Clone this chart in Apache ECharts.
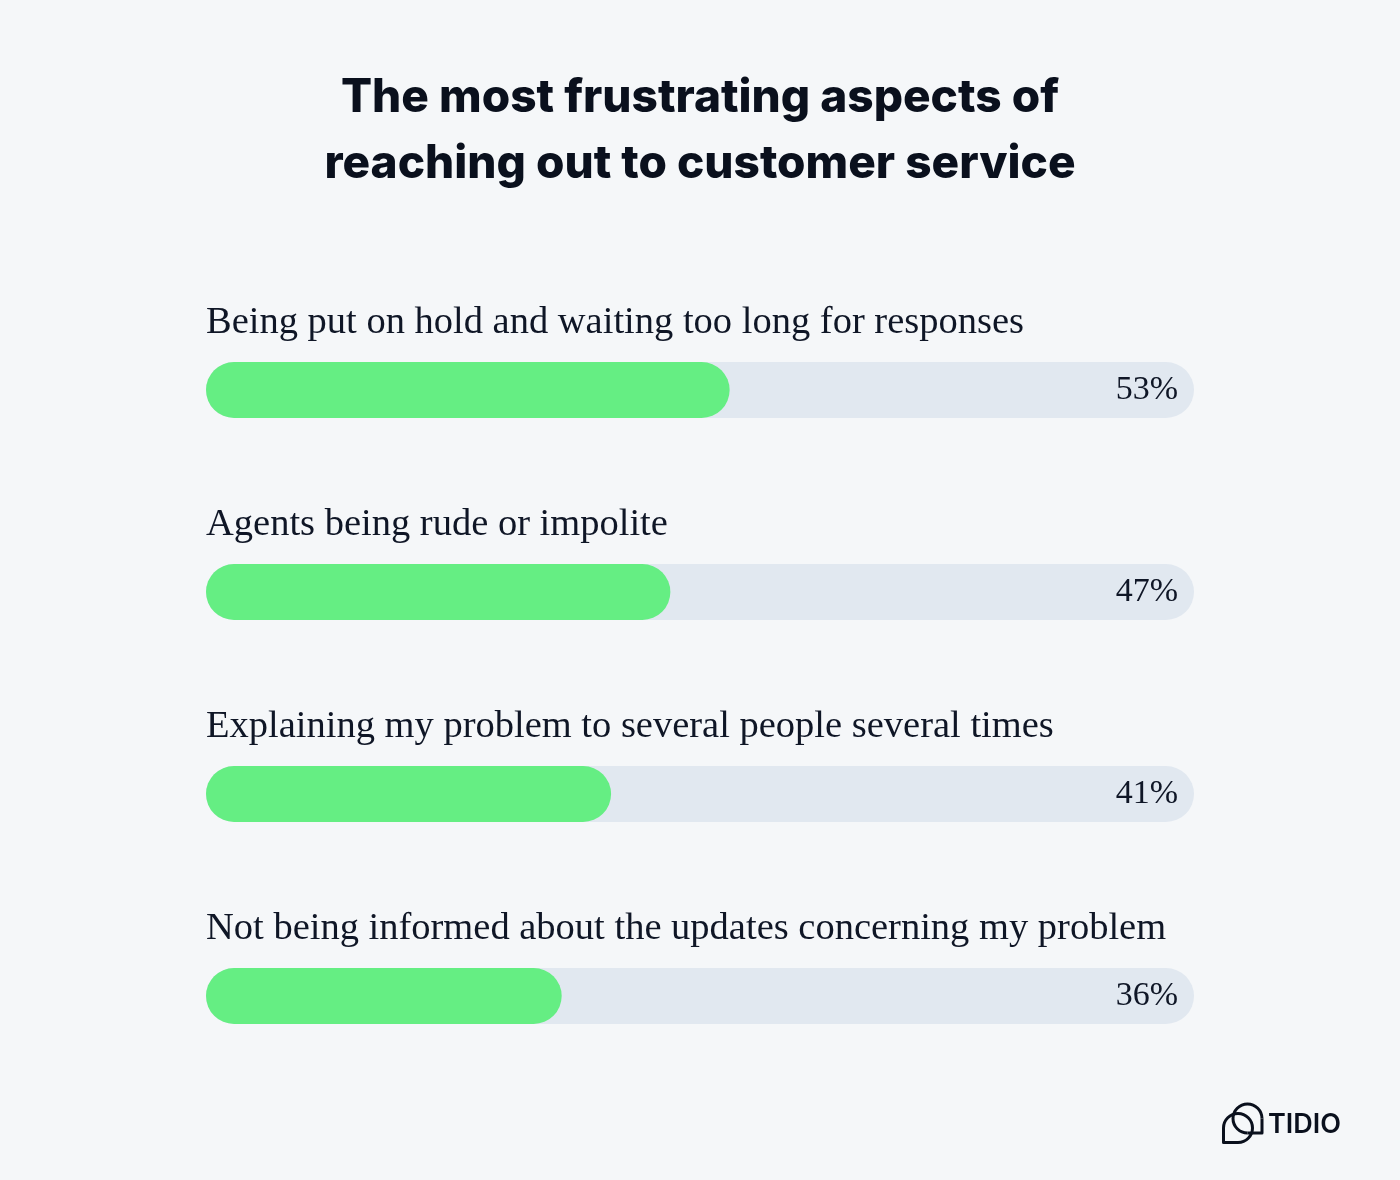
<!DOCTYPE html>
<html><head><meta charset="utf-8">
<script src="https://cdn.jsdelivr.net/npm/echarts@6/dist/echarts.min.js"></script>
<style>html,body{margin:0;padding:0;background:#f5f7f9;}#c{width:1400px;height:1180px;}</style>
</head><body><div id="c"></div>
<script>
const categories = [
  "Being put on hold and waiting too long for responses",
  "Agents being rude or impolite",
  "Explaining my problem to several people several times",
  "Not being informed about the updates concerning my problem"
];
const values = [53, 47, 41, 36];
const trackMax = [100, 100, 100, 100];
const titleLines = ["The most frustrating aspects of", "reaching out to customer service"];

const ink = '#0a101d';
const lw = 3;
const chart = echarts.init(document.getElementById('c'), null, {renderer:'canvas'});
chart.setOption({
  backgroundColor: '#f5f7f9',
  animation: false,
  title: {
    text: titleLines.join('\n'),
    left: 'center', top: 60,
    textStyle: {fontFamily: 'Inter', fontWeight: 800, fontSize: 46, lineHeight: 66, color: ink}
  },
  grid: {left: 206, right: 206, top: 289, bottom: 83},
  xAxis: {type: 'value', min: 0, max: 100, show: false},
  yAxis: {
    type: 'category', data: categories, inverse: true,
    axisLine: {show: false}, axisTick: {show: false}, axisLabel: {show: false}
  },
  series: [
    {
      type: 'bar', data: trackMax, barWidth: 56, barGap: '-100%', silent: true,
      itemStyle: {color: '#e1e8f0', borderRadius: 28},
      label: {
        show: true, position: 'insideRight', distance: 16,
        formatter: p => values[p.dataIndex] + '%',
        fontFamily: 'Liberation Serif', fontSize: 34, color: '#0f1626'
      },
      z: 1
    },
    {
      type: 'bar', data: values, barWidth: 56, barGap: '-100%',
      itemStyle: {color: '#65ee83', borderRadius: 28},
      label: {
        show: true, position: [0, -39], align: 'left', verticalAlign: 'middle',
        formatter: p => categories[p.dataIndex],
        fontFamily: 'Liberation Serif', fontSize: 38.5, color: '#0f1626'
      },
      z: 2
    }
  ],
  graphic: [
    {type: 'arc', shape: {cx: 1238, cy: 1128, r: 14.5, startAngle: Math.PI, endAngle: 2.5 * Math.PI, clockwise: true},
     style: {stroke: ink, lineWidth: lw, fill: null}},
    {type: 'polyline', shape: {points: [[1223.5, 1128], [1223.5, 1142.5], [1238, 1142.5]]},
     style: {stroke: ink, lineWidth: lw, fill: null, lineJoin: 'round'}},
    {type: 'arc', shape: {cx: 1247.5, cy: 1118.5, r: 14.5, startAngle: 0.5 * Math.PI, endAngle: 2 * Math.PI, clockwise: true},
     style: {stroke: ink, lineWidth: lw, fill: null}},
    {type: 'polyline', shape: {points: [[1262, 1118.5], [1262, 1133], [1247.5, 1133]]},
     style: {stroke: ink, lineWidth: lw, fill: null, lineJoin: 'round'}},
    {
      type: 'text', left: 1268, top: 1111,
      style: {text: 'TIDIO', font: '600 27px Inter', fill: ink}
    }
  ]
});
</script></body></html>
